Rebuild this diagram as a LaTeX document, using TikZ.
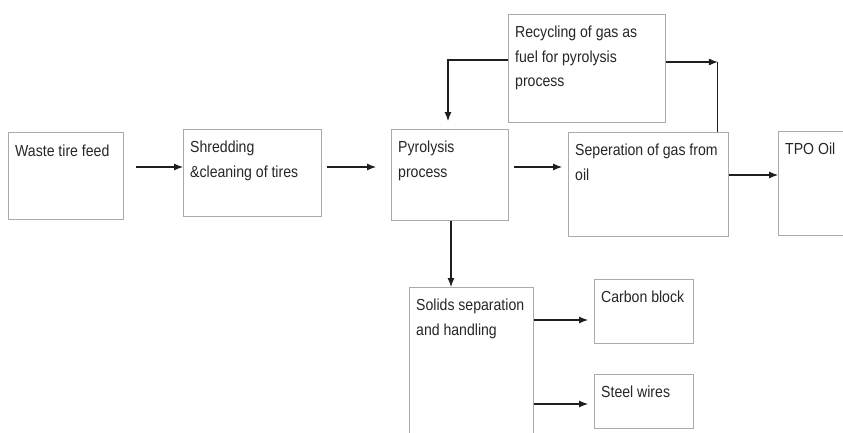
\documentclass[tikz,border=0pt]{standalone}
\usepackage{fontspec}
\setmainfont{Liberation Sans}[FakeStretch=0.88]
\usetikzlibrary{arrows.meta,calc}
\definecolor{boxgray}{RGB}{170,170,170}
\definecolor{arrowdark}{RGB}{30,30,30}
\begin{document}
\begin{tikzpicture}[x=1pt,y=-1pt,
  blk/.style={draw=boxgray, line width=0.9pt, inner sep=0pt, anchor=north west},
  txt/.style={inner sep=0pt, anchor=north west, align=left, text=black!85,
    font=\fontsize{16}{24.5}\selectfont},
  arr/.style={draw=arrowdark, line width=1.1pt, -{Latex[length=9pt,width=7pt]}}]
\useasboundingbox (0,0) rectangle (843,432);
\clip (0,0) rectangle (843,432);
\fill[white] (0,0) rectangle (843,432);
% boxes
\node[blk, minimum width=115, minimum height=87] (w) at (8,132) {};
\node[blk, minimum width=138, minimum height=87] (s) at (183,129) {};
\node[blk, minimum width=117, minimum height=91] (p) at (391,129) {};
\node[blk, minimum width=157, minimum height=108] (r) at (508,14) {};
\node[blk, minimum width=160, minimum height=104] (g) at (568,132) {};
\node[blk, minimum width=90, minimum height=104] (t) at (778,131) {};
\node[blk, minimum width=124, minimum height=170] (so) at (409,287) {};
\node[blk, minimum width=99, minimum height=64] (c) at (594,279) {};
\node[blk, minimum width=99, minimum height=54] (st) at (594,374) {};
% texts
\node[txt] (wt) at ($(w.north west)+(7,13)$) {Waste tire feed};
\node[txt] (stt) at ($(s.north west)+(7,12)$) {Shredding\\\&cleaning of tires};
\node[txt] (pt) at ($(p.north west)+(7,12)$) {Pyrolysis\\process};
\node[txt] (rt) at ($(r.north west)+(7,12)$) {Recycling of gas as\\fuel for pyrolysis\\process};
\node[txt] (gt) at ($(g.north west)+(7,12)$) {Seperation of gas from\\oil};
\node[txt] (tt) at ($(t.north west)+(7,12)$) {TPO Oil};
\node[txt] (sot) at ($(so.north west)+(7,12)$) {Solids separation\\and handling};
\node[txt] (ct) at ($(c.north west)+(7,12)$) {Carbon block};
\node[txt] (stt2) at ($(st.north west)+(7,12)$) {Steel wires};
% connectors
\draw[arr] ($(w.north east)+(12,35)$) coordinate (a1) -- (a1 -| s.west);
\draw[arr] ($(s.north east)+(5,38)$) coordinate (a2) -- ($(a2 -| p.west)+(-15,0)$);
\draw[arr] ($(p.north east)+(5,38)$) coordinate (a3) -- ($(a3 -| g.west)+(-6,0)$);
\draw[arr] ($(g.north east)+(0,43)$) coordinate (a4) -- (a4 -| t.west);
\draw[arr] ($(r.north west)+(0,46)$) coordinate (a5) -| ($(p.north west)+(57,-8)$);
\coordinate (gup) at ($(g.north east)+(-11,0)$);
\draw[arr] ($(r.north east)+(0,48)$) coordinate (a6) -- (a6 -| gup) coordinate (a6e);
\draw[draw=arrowdark, line width=1.1pt] (gup) -- (a6e);
\draw[arr] ($(p.south west)+(60,0)$) coordinate (a7) -- (a7 |- so.north);
\draw[arr] ($(so.north east)+(0,33)$) coordinate (a8) -- ($(a8 -| c.west)+(-6,0)$);
\draw[arr] ($(so.north east)+(0,117)$) coordinate (a9) -- ($(a9 -| st.west)+(-6,0)$);
\end{tikzpicture}
\end{document}
